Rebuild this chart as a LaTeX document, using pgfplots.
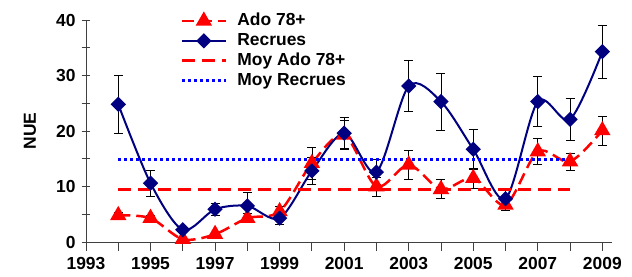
\documentclass[border=0pt]{standalone}
\usepackage{pgfplots}
\pgfplotsset{compat=1.18}
\usepackage{fontspec}
\setmainfont{Liberation Sans}
\definecolor{navy}{RGB}{0,0,128}
\definecolor{xred}{RGB}{255,0,0}
\definecolor{xblue}{RGB}{0,0,255}
\pgfplotstableread{
x y e
1994 4.8 0.6
1995 4.3 0.5
1996 0.5 0.4
1997 1.4 0.4
1998 4.3 0.8
1999 5.5 1.0
2000 14.2 2.9
2001 19.3 2.6
2002 10.0 1.7
2003 13.9 2.7
2004 9.5 1.7
2005 11.5 1.8
2006 6.7 1.0
2007 16.3 2.3
2008 14.5 1.5
2009 20.1 2.6
}\ado
\pgfplotstableread{
x y e
1994 24.8 5.3
1995 10.6 2.3
1996 2.2 0.5
1997 5.9 1.1
1998 6.5 2.4
1999 4.3 1.1
2000 12.8 2.5
2001 19.6 2.8
2002 12.6 2.3
2003 28.1 4.6
2004 25.3 5.1
2005 16.7 3.6
2006 7.8 1.7
2007 25.3 4.5
2008 22.1 3.8
2009 34.3 4.8
}\recr
\begin{document}
\fontsize{17.5}{21}\selectfont\bfseries
\begin{tikzpicture}
\begin{axis}[name=ax,
  scale only axis, width=526bp, height=222bp,
  xmin=1993, xmax=2009.3, ymin=0, ymax=40,
  axis lines*=left,
  axis line style={line width=0.8bp, black!75},
  xtick={1993,1995,...,2009}, minor xtick={1994,1996,...,2008},
  ytick={0,10,...,40}, minor ytick={5,15,...,35},
  x tick label style={/pgf/number format/1000 sep={}},
  /pgf/number format/assume math mode=true,
  tick label style={font=\fontsize{17.5}{21}\selectfont\bfseries},
  x tick style={line width=0.8bp, black!75},
  y tick style={line width=0.8bp, black!75},
  xtick align=outside, ytick align=center,
  major tick length=9bp, minor tick length=9bp,
  ylabel={NUE},
  ylabel style={at={(axis description cs:-0.1065,0.5)}, anchor=center, font=\fontsize{17.5}{21}\selectfont\bfseries},
  legend style={draw=none, fill=none, at={(rel axis cs:0.179,1.04)}, anchor=north west,
    font=\fontsize{17.5}{21}\selectfont\bfseries, row sep=1bp, inner sep=0pt,
    /tikz/every odd column/.append style={column sep=8bp}},
  legend cell align=left,
  legend image code/.code={\draw[mark repeat=2,mark phase=2,#1] plot coordinates {(0bp,0bp) (22bp,0bp) (44bp,0bp)};},
  clip=false,
]
\addplot[xred, line width=2.5bp, dash pattern=on 12bp off 6bp, smooth,
  mark=triangle*, mark size=7bp, mark options={solid, fill=xred},
  error bars/.cd, y dir=both, y explicit, error mark=|,
  error bar style={black, line width=0.7bp, solid},
  error mark options={black, mark size=4.5bp, line width=0.7bp, solid}]
  table[x=x, y=y, y error=e] {\ado};
\addlegendentry{Ado 78+}
\addplot[navy, line width=2bp, smooth,
  mark=square*, mark size=4.4bp, mark options={rotate=45, fill=navy},
  error bars/.cd, y dir=both, y explicit, error mark=|,
  error bar style={black, line width=0.7bp},
  error mark options={black, mark size=4.5bp, line width=0.7bp}]
  table[x=x, y=y, y error=e] {\recr};
\addlegendentry{Recrues}
\addplot[xred, line width=3bp, dash pattern=on 13bp off 7bp] coordinates {(1994,9.4) (2008,9.4)};
\addlegendentry{Moy Ado 78+}
\addplot[xblue, line width=3bp, dash pattern=on 3bp off 3bp] coordinates {(1994,14.95) (2008,14.95)};
\addlegendentry{Moy Recrues}
\end{axis}
\pgfresetboundingbox
\path[use as bounding box] (ax.south west) ++(-86bp,-35bp) rectangle ++(632bp,277bp);
\end{tikzpicture}
\end{document}
